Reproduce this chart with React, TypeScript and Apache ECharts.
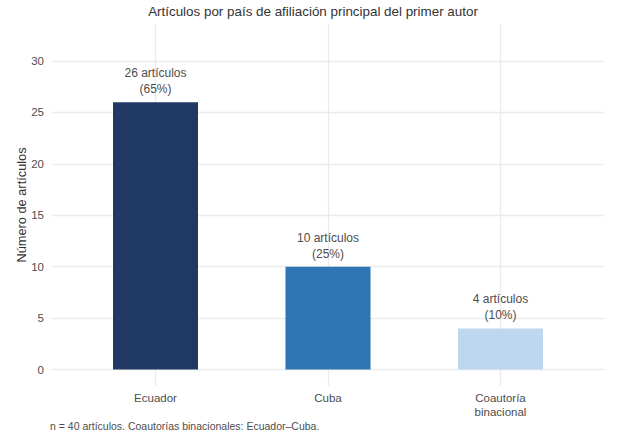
import React, { useEffect, useRef } from "react";
import * as echarts from "echarts";

const categories = ["Ecuador", "Cuba", "Coautoría\nbinacional"];
const counts = [26, 10, 4];
const percents = [65, 25, 10];
const barColors = ["#1f3864", "#2e75b6", "#bdd7ee"];
const yTicks = [0, 5, 10, 15, 20, 25, 30];
const xPositions = [1, 2, 3];

const titleText = "Artículos por país de afiliación principal del primer autor";
const yName = "Número de artículos";
const caption = "n = 40 artículos. Coautorías binacionales: Ecuador–Cuba.";

const FONT = "'Liberation Sans', Arial, Helvetica, sans-serif";

export default function App() {
  const ref = useRef<HTMLDivElement>(null);

  useEffect(() => {
    document.body.style.margin = "0";
    if (!ref.current) return;
    const chart = echarts.init(ref.current, undefined, { renderer: "svg" });
    const data = xPositions.map((x, i) => ({
      value: [x, counts[i]],
      itemStyle: { color: barColors[i] },
    }));
    chart.setOption({
      animation: false,
      textStyle: { fontFamily: FONT },
      title: {
        text: titleText,
        left: "center",
        top: 0,
        textStyle: { fontFamily: FONT, fontSize: 13.4, fontWeight: "normal", color: "#333333" },
      },
      grid: { left: 52, right: 22, top: 24, bottom: 61, containLabel: false },
      xAxis: {
        type: "value",
        min: 0.4,
        max: 3.6,
        axisLine: { show: false, onZero: false },
        axisTick: { show: false, customValues: xPositions },
        axisLabel: {
          customValues: xPositions,
          formatter: (v: number) => categories[Math.round(v) - 1] ?? "",
          color: "#4d4d4d",
          fontSize: 11.5,
          lineHeight: 14,
          margin: 5,
          verticalAlign: "top",
          fontFamily: FONT,
        },
        splitLine: { show: true, lineStyle: { color: "#ebebeb", width: 1.3 } },
      },
      yAxis: {
        type: "value",
        min: -1.6,
        max: 33.6,
        name: yName,
        nameLocation: "middle",
        nameGap: 24,
        nameMoveOverlap: false,
        nameTextStyle: { color: "#333333", fontSize: 12.8, fontFamily: FONT },
        axisLine: { show: false },
        axisTick: { show: false, customValues: yTicks },
        axisLabel: {
          customValues: yTicks,
          color: "#4d4d4d",
          fontSize: 11.5,
          margin: 8,
          fontFamily: FONT,
        },
        splitLine: { show: true, lineStyle: { color: "#ebebeb", width: 1.3 } },
      },
      series: [
        {
          type: "bar",
          data,
          barWidth: 85,
          label: {
            show: true,
            position: "top",
            distance: 5,
            formatter: (p: any) => `${counts[p.dataIndex]} artículos\n(${percents[p.dataIndex]}%)`,
            color: "#4d4d4d",
            fontSize: 12,
            lineHeight: 16,
            fontFamily: FONT,
          },
        },
      ],
      graphic: [
        {
          type: "text",
          left: 50,
          top: 420,
          style: { text: caption, fill: "#4d4d4d", fontSize: 10.5, fontFamily: FONT },
        },
      ],
    });
    return () => chart.dispose();
  }, []);

  return <div ref={ref} style={{ width: 626, height: 447 }} />;
}
